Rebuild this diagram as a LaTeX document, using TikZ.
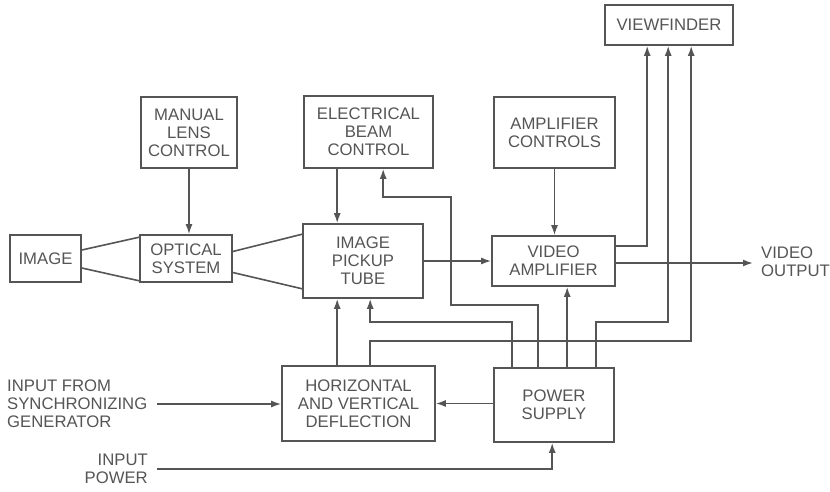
\documentclass[tikz,border=0pt]{standalone}
\usepackage{fontspec}
\setmainfont{Liberation Sans}
\usetikzlibrary{arrows.meta,calc}
\definecolor{ink}{RGB}{85,85,85}
\tikzset{
  blk/.style={draw=ink, line width=1.6pt, text=ink, align=center, inner sep=0pt},
  lbl/.style={text=ink, inner sep=0pt},
  wire/.style={draw=ink, line width=1.6pt},
  arr/.style={wire, -{Latex[length=10pt,width=7pt]}}
}

\begin{document}
\begin{tikzpicture}[x=1pt,y=-1pt,font=\fontsize{16.7}{18}\selectfont]
        \useasboundingbox (0,0) rectangle (830,491);
        \node[blk, minimum width=71pt, minimum height=47pt] (img) at (45.5,258.5) {IMAGE};
        \node[blk, minimum width=92pt, minimum height=47pt] (opt) at (186,258.5) {OPTICAL\\SYSTEM};
        \node[blk, minimum width=96pt, minimum height=71pt] (lens) at (189,132.5) {MANUAL\\LENS\\CONTROL};
        \node[blk, minimum width=120pt, minimum height=74pt] (tube) at (363,261) {IMAGE\\PICKUP\\TUBE};
        \node[blk, minimum width=129pt, minimum height=72pt] (beam) at (368.5,132) {ELECTRICAL\\BEAM\\CONTROL};
        \node[blk, minimum width=121pt, minimum height=71pt] (ampc) at (554.5,132.5) {AMPLIFIER\\CONTROLS};
        \node[blk, minimum width=123pt, minimum height=50pt] (vamp) at (553.5,261) {VIDEO\\AMPLIFIER};
        \node[blk, minimum width=128pt, minimum height=40pt] (vf) at (669,25) {VIEWFINDER};
        \node[blk, minimum width=153pt, minimum height=75pt] (defl) at (358.5,403.5) {HORIZONTAL\\AND VERTICAL\\DEFLECTION};
        \node[blk, minimum width=120pt, minimum height=74pt] (ps) at (554,405) {POWER\\SUPPLY};
        \node[lbl, align=left, anchor=west] (sync) at (7,404) {INPUT FROM\\SYNCHRONIZING\\GENERATOR};
        \node[lbl, align=right, anchor=east] (power) at (148,469) {INPUT\\POWER};
        \node[lbl, align=left, anchor=west] (vout) at (761,262) {VIDEO\\OUTPUT};
        \coordinate (vend) at (753,263);
        \draw[wire] ($(img.east)+(0,-8.5)$) -- ($(opt.north west)+(0,3)$);
        \draw[wire] ($(img.east)+(0,9.5)$) -- ($(opt.south west)+(0,-2)$);
        \draw[wire] ($(opt.east)+(0,-7)$) -- ($(tube.north west)+(0,11)$);
        \draw[wire] ($(opt.east)+(0,14)$) -- ($(tube.south west)+(0,-10)$);
        \draw[arr] (lens.south) -- (lens.south |- opt.north);
        \draw[arr] ($(beam.south west)+(34,0)$) -- ($(tube.north west)+(35,0)$);
        \draw[arr] (ampc.south) -- (ampc.south |- vamp.north);
        \draw[arr] (tube.east) -- (vamp.west);
        \draw[arr] (vamp.east |- vend) -- (vend);
        \draw[arr] ($(vamp.east)+(0,-15)$) -| ($(vf.south west)+(43,0)$);
        \draw[arr] ($(defl.north west)+(56,0)$) -- ($(tube.south west)+(35,0)$);
        \draw[arr] ($(defl.north west)+(89,0)$) -- ++(0,-24) -| ($(vf.south west)+(87,0)$);
        \draw[arr] ($(ps.north west)+(19,0)$) -- ++(0,-45) -| ($(tube.south west)+(68,0)$);
        \draw[arr] ($(ps.north west)+(45,0)$) -- ++(0,-62) -- ++(-87,0) -- ++(0,-108) -| ($(beam.south west)+(80,0)$);
        \draw[arr] ($(ps.north west)+(74,0)$) -- ($(vamp.south west)+(76,0)$);
        \draw[arr] ($(ps.north west)+(103,0)$) -- ++(0,-45) -| ($(vf.south west)+(64,0)$);
        \draw[arr] (defl.east -| ps.west) -- (defl.east);
        \draw[arr] ($(sync.east)+(9,0)$) -- (sync.east -| defl.west);
        \draw[arr] ($(power.east)+(9,0)$) -| ($(ps.south west)+(59,0)$);
      \end{tikzpicture}
\end{document}
